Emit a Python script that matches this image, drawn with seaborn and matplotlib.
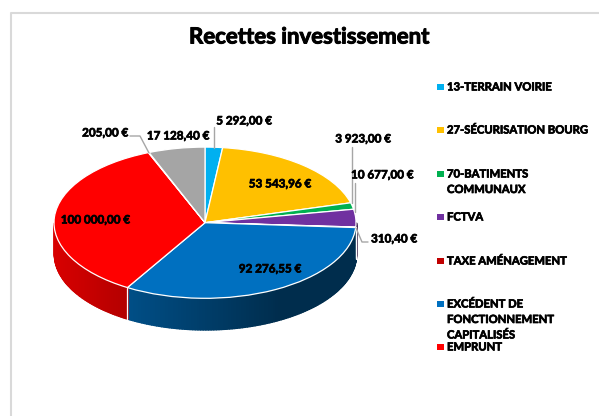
import numpy as np
import pandas as pd
import seaborn as sns
import matplotlib.pyplot as plt
import matplotlib.patheffects as pe
from matplotlib.colors import to_rgb

title = "Recettes investissement"

# slices, clockwise from the top
values = [5292.00, 53543.96, 3923.00, 10677.00, 310.40, 92276.55, 100000.00, 205.00, 17128.40]
colours = ["#00B0F0", "#FFC000", "#00B050", "#7030A0", "#C00000", "#0070C0", "#FF0000", "#A5A5A5", "#A5A5A5"]

legend_names = ["13-TERRAIN VOIRIE", "27-SÉCURISATION BOURG", "70-BATIMENTS\nCOMMUNAUX", "FCTVA",
                "TAXE AMÉNAGEMENT", "EXCÉDENT DE\nFONCTIONNEMENT\nCAPITALISÉS", "EMPRUNT"]
legend_y_px = [87, 130, 174, 217, 261, 304, 347]

# label centres in picture pixels
label_x_px = [244, 280, 363, 382, 394, 270, 95, 105, 178]
label_y_px = [121, 184, 139, 175, 239, 269, 220, 133, 136]

# leader lines in picture pixels
leaders = [
    ([214, 214], [127, 148]),
    ([352, 352], [147, 203]),
    ([355, 355], [183, 212]),
    ([356, 362, 368], [228, 242, 242]),
    ([130, 140, 149], [136, 136, 153]),
]

CX, CY, RX, RY, DEPTH = 205, 222.7, 151, 75.6, 31


def px(x):
    return (np.asarray(x, dtype=float) - CX) / RX


def py(y):
    return (CY - np.asarray(y, dtype=float)) / RY


def euros(v):
    return f"{v:,.2f}".replace(",", " ").replace(".", ",") + " €"


sns.set_theme(style="white")
plt.rcParams["font.family"] = ["Lato", "DejaVu Sans"]

fig = plt.figure(figsize=(5.99, 4.16), dpi=100)
ax = fig.add_axes([0, 0, 1, 1])

palette = sns.color_palette(colours)
wedges, _ = ax.pie(values, colors=palette, startangle=90, counterclock=False, radius=1,
                   wedgeprops={"edgecolor": "white", "linewidth": 0.9, "zorder": 3})

ax.set_aspect("auto")

# side wall of the disc, only the front half shows
d = DEPTH / RY
heavy = [pe.withStroke(linewidth=0.5, foreground="black")]
for w, c in zip(wedges, palette):
    t1 = max(w.theta1, -180)
    t2 = min(w.theta2, 0)
    if t1 >= t2:
        continue
    ts = np.radians(np.linspace(t1, t2, max(int(t2 - t1), 1) + 1))
    for a, b in zip(ts[:-1], ts[1:]):
        seg = np.linspace(a, b, 4)
        xs = np.cos(seg)
        ys = np.sin(seg)
        shade = np.interp(xs.mean(), [-1, -0.5, 0.5, 1], [0.85, 0.7, 0.4, 0.4])
        col = tuple(np.array(to_rgb(c)) * shade)
        ax.fill_between(xs, ys - d, ys, facecolor=col, edgecolor=col, lw=1.2, zorder=1)
    x0 = np.cos(np.radians(t1))
    y0 = np.sin(np.radians(t1))
    if t1 > -180:
        ax.plot([x0, x0], [y0 - d, y0], color="white", lw=0.9, zorder=2)

for xs, ys in leaders:
    ax.plot(px(xs), py(ys), color="#A6A6A6", lw=1, zorder=4)

for v, x, y in zip(values, label_x_px, label_y_px):
    ax.text(px(x), py(y), euros(v), ha="center", va="center", fontsize=8.4, fontweight="bold",
            color="black", zorder=5, path_effects=heavy)

ax.text(px(310), py(37), title, ha="center", va="center", fontsize=16, fontweight="bold", color="black",
        path_effects=[pe.withStroke(linewidth=0.7, foreground="black")])

# legend, spaced by hand like the original
df_legend = pd.DataFrame({"name": legend_names, "x": px(440.7), "y": py(legend_y_px)})
sns.scatterplot(data=df_legend, x="x", y="y", hue="name", palette=list(palette[:7]), marker="s", s=22,
                linewidth=0, legend=False, ax=ax, zorder=5)
for name, y in zip(legend_names, legend_y_px):
    ax.text(px(447), py(y - 5.5), name, ha="left", va="top", fontsize=8.1, fontweight="bold",
            color="black", linespacing=1.5, zorder=5, path_effects=heavy)
ax.set_xlabel("")
ax.set_ylabel("")
ax.set_xticks([])
ax.set_yticks([])
ax.set_xlim(px(0), px(599))
ax.set_ylim(py(416), py(0))

# chart area border, cut off at the top and left of the crop
ax.plot(px([10.5, 10.5, 599]), py([416, 13, 13]), color="#D9D9D9", lw=1.5, zorder=0)

for s in ax.spines.values():
    s.set_visible(False)

fig.savefig("out.png", dpi=100)
